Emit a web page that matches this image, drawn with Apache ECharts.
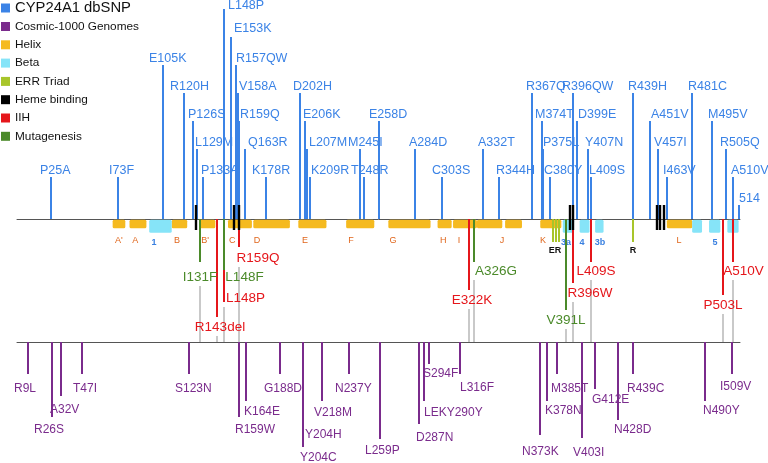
<!DOCTYPE html>
<html><head><meta charset="utf-8">
<script src="https://cdn.jsdelivr.net/npm/echarts@6/dist/echarts.min.js"></script>
<style>html,body{margin:0;padding:0;background:#fff}#c{width:768px;height:463px}</style>
</head><body><div id="c"></div><script>
// ================= DATA =================
// CYP24A1 dbSNP variants (top, stems upward); level = stem height tier
const dbsnpNames = ['P25A','I73F','E105K','R120H','P126S','L129M','P133A','L148P','E153K','R157QW','V158A','R159Q','Q163R','K178R','D202H','E206K','L207M','K209R','M245I','T248R','E258D','A284D','C303S','A332T','R344H','R367Q','M374T','P375L','C380Y','R396QW','D399E','Y407N','L409S','R439H','A451V','V457I','I463V','R481C','M495V','R505Q','A510V','514'];
const dbsnpPos = [25,73,105,120,126,129,133,148,153,157,158,159,163,178,202,206,207,209,245,248,258,284,303,332,344,367,374,375,380,396,399,407,409,439,451,457,463,481,495,505,510,514];
const dbsnpLevel = [2,2,6,5,4,3,2,8,7,6,5,4,3,2,5,4,3,2,3,2,4,3,2,3,2,5,4,3,2,5,4,3,2,5,4,3,2,5,4,3,2,1];

// Cosmic / 1000 Genomes variants (bottom, stems downward); depth in track units
const cosmicNames = ['R9L','R26S','A32V','T47I','S123N','R159W','K164E','G188D','Y204C','Y204H','V218M','N237Y','L259P','D287N','LEKY290Y','S294F','L316F','N373K','K378N','M385T','V403I','G412E','N428D','R439C','N490Y','I509V'];
const cosmicPos = [9,26,32,47,123,159,164,188,204,204,218,237,259,287,290,294,316,373,378,385,403,412,428,439,490,509];
const cosmicDepth = [3.2,7.5,5.4,3.2,3.2,7.5,5.9,3.2,10.5,8.2,5.9,3.2,9.7,8.2,5.9,2.2,3.2,9.3,5.9,3.2,9.6,4.7,7.8,3.2,5.9,3.2];

// Secondary structure: helices
const helixNames = ["A'",'A','B',"B'",'C','D','E','F','G','H','I','J','','K','L'];
const helixStart = [69,81,111,131,151,169,201,235,265,300,311,328,348,373,463];
const helixEnd   = [78,93,122,142,168,195,221,255,295,310,328,346,360,388,481];
const helixLabelPos = [73.5,85,114.7,134.7,154,171.6,205.7,238.5,268.3,304,315.2,345.8,null,375,471.6];
// beta strands
const betaNames = ['1','3a','4','3b','','5',''];
const betaStart = [95,389,401,412,481,493,506];
const betaEnd   = [111,397,408,418,488,501,514];
const betaLabelPos = [98.4,391.3,402.7,415.5,null,497.2,null];

// ERR triad
const errPos = [382,384,386,439];
const errLabelText = ['ER','R'];
const errLabelPos = [383.5,439];

// Heme binding residues
const hemePos = [128,155,159,394,396,456,458,461];

// IIH mutations (red) and mutagenesis (green), hanging below the top line
const iihNames = ['R143del','L148P','R159Q','E322K','R396W','L409S','P503L','A510V'];
const iihPos = [143,148,159,322,396,409,503,510];
const iihDepth = [9.8,8.3,2.8,7.1,6.4,4.3,7.6,4.3];
const mutNames = ['I131F','L148F','A326G','V391L'];
const mutPos = [131,148,326,391];
const mutDepth = [4.3,5.1,4.3,9.1];

// ================= LAYOUT / STYLE =================
const FONT = '"Liberation Sans", Arial, sans-serif';
const C = {blue:'#3b83e6', purple:'#7a2b8c', helix:'#f5ba1f', beta:'#86e4f8', err:'#a8c52a', heme:'#000000', iih:'#e5161b', mut:'#4b8a2a', grey:'#c9c9c9', axis:'#555555', orange:'#e0661c'};
// label left offsets (px) relative to stem, top track
const TOP_DX = {P25A:-11,I73F:-9,E105K:-14,R120H:-14,P126S:-5,L129M:-2,P133A:-2,L148P:4,E153K:3,R157QW:0,V158A:1,R159Q:1,Q163R:3,K178R:-14,D202H:-7,E206K:-2,L207M:2,K209R:1,M245I:-12,T248R:-13,E258D:-10,A284D:-6,C303S:-10,A332T:-5,R344H:-3,R367Q:-6,M374T:-7,P375L:0,C380Y:-6,R396QW:-11,D399E:1,Y407N:-3,L409S:-2,R439H:-5,A451V:1,V457I:-4,I463V:-4,R481C:-4,M495V:-4,R505Q:-6,A510V:-2,'514':0};
// label centre offset (px) above stem top
const TOP_DY = {L148P:-3, E153K:-8};
const BOT_DX = {R9L:-14,R26S:-18,A32V:-11,T47I:-9,S123N:-14,R159W:-4,K164E:-2,G188D:-16,Y204C:-3,Y204H:2,V218M:-8,N237Y:-14,L259P:-15,D287N:-3,LEKY290Y:0,S294F:-6,L316F:0,N373K:-18,K378N:-2,M385T:-6,V403I:-9,G412E:-3,N428D:-4,R439C:-6,N490Y:-2,I509V:-12};
// label centre offset (px) below stem end
const BOT_DY = {R9L:13,R26S:11,A32V:12,T47I:13,S123N:13,R159W:11,K164E:9,G188D:13,Y204C:9,Y204H:9,V218M:10,N237Y:13,L259P:10,D287N:12,LEKY290Y:10,S294F:8,L316F:12,N373K:15,K378N:8,M385T:13,V403I:13,G412E:9,N428D:8,R439C:13,N490Y:8,I509V:11};
// middle labels: [center dx px, center dy px from stem end]
const MID_L = {I131F:[0,15],R143del:[3,10],L148F:[20.5,7],L148P:[21.5,-4],R159Q:[19,11],E322K:[3,10],A326G:[22,9],V391L:[0,10],R396W:[17,10],L409S:[5,9],P503L:[0,10],A510V:[10.5,9]};

const snap = v => Math.round(v);

function stemTop(params, api) {
  const i = params.dataIndex, name = dbsnpNames[i];
  const b = api.coord([api.value(0), 0.5]), t = api.coord([api.value(0), api.value(1)]);
  const x = snap(b[0]);
  return {type:'group', children:[
    {type:'line', shape:{x1:x, y1:b[1], x2:x, y2:t[1]}, style:{stroke:C.blue, lineWidth:2}},
    {type:'text', style:{text:name, x:x + (TOP_DX[name] ?? -5), y:t[1] + (TOP_DY[name] ?? -6.5), fill:C.blue, fontSize:12.5, fontFamily:FONT, align:'left', verticalAlign:'middle'}}
  ]};
}
function stemBottom(params, api) {
  const i = params.dataIndex, name = cosmicNames[i];
  const b = api.coord([api.value(0), 0]), t = api.coord([api.value(0), api.value(1)]);
  const x = snap(b[0]);
  return {type:'group', children:[
    {type:'line', shape:{x1:x, y1:b[1], x2:x, y2:t[1]}, style:{stroke:C.purple, lineWidth:2}},
    {type:'text', style:{text:name, x:x + (BOT_DX[name] ?? -5), y:t[1] + (BOT_DY[name] ?? 11) + 1.5, fill:C.purple, fontSize:12, fontFamily:FONT, align:'left', verticalAlign:'middle'}}
  ]};
}
function midStem(names, color) {
  return function(params, api) {
    const name = names[params.dataIndex];
    const b = api.coord([api.value(0), 0]), t = api.coord([api.value(0), api.value(1)]);
    const x = snap(b[0]); const L = MID_L[name] || [0,10];
    return {type:'group', children:[
      {type:'line', shape:{x1:x, y1:b[1], x2:x, y2:t[1]}, style:{stroke:color, lineWidth:2}},
      {type:'text', style:{text:name, x:x + L[0], y:t[1]+L[1]+0.5, fill:color, fontSize:13.5, fontFamily:FONT, align:'center', verticalAlign:'middle'}}
    ]};
  };
}
// connectors from mid labels to the bottom line
const connMap = {};
function addConn(names, pos, depth) {
  names.forEach((n, i) => {
    const L = MID_L[n] || [0,10];
    const start = depth[i] + (L[1] + 9) / 10;
    if (connMap[pos[i]] === undefined || start > connMap[pos[i]]) connMap[pos[i]] = start;
  });
}
addConn(iihNames, iihPos, iihDepth); addConn(mutNames, mutPos, mutDepth);
const connData = Object.keys(connMap).map(k => [Number(k), connMap[k]]);

function boxes(names, starts, ends, labelPos, color, d1, labelColor, bold) {
  return function(params, api) {
    const i = params.dataIndex;
    const a = api.coord([starts[i], 0.08]), b = api.coord([ends[i], d1]);
    const ch = [{type:'rect', shape:{x:a[0], y:a[1], width:b[0]-a[0], height:b[1]-a[1], r:1.5}, style:{fill:color}}];
    if (names[i] && labelPos[i] != null) {
      const lp = api.coord([labelPos[i], bold ? 2.4 : 2.2]);
      ch.push({type:'text', style:{text:names[i], x:lp[0], y:lp[1], fill:labelColor, fontSize:9, fontWeight: bold ? 'bold' : 'normal', fontFamily:FONT, align:'center', verticalAlign:'middle'}});
    }
    return {type:'group', children:ch};
  };
}

const chart = echarts.init(document.getElementById('c'), null, {renderer:'canvas'});
const axisCommon = {type:'value', min:1, max:515, axisTick:{show:false}, axisLabel:{show:false}, splitLine:{show:false}};
chart.setOption({
  animation:false,
  backgroundColor:'#ffffff',
  legend:[
    {data:['CYP24A1 dbSNP'], orient:'vertical', left:1, top:0, padding:0, icon:'rect', itemWidth:9, itemHeight:9, selectedMode:false, textStyle:{fontSize:14.8, fontFamily:FONT, color:'#111', lineHeight:16}},
    {data:['Cosmic-1000 Genomes','Helix','Beta','ERR Triad','Heme binding','IIH','Mutagenesis'], orient:'vertical', left:1, top:19.5, padding:0, icon:'rect', itemWidth:9, itemHeight:9, itemGap:4.3, selectedMode:false, textStyle:{fontSize:11.8, fontFamily:FONT, color:'#111', lineHeight:14}}
  ],
  grid:[
    {left:17, width:723, top:9, height:210},
    {left:17, width:723, top:219, height:123},
    {left:17, width:723, top:342, height:121}
  ],
  xAxis:[
    Object.assign({gridIndex:0, position:'bottom', axisLine:{show:true, onZero:false, lineStyle:{color:C.axis, width:1}}}, axisCommon),
    Object.assign({gridIndex:1, show:false}, axisCommon),
    Object.assign({gridIndex:2, position:'top', axisLine:{show:true, onZero:false, lineStyle:{color:C.axis, width:1}}}, axisCommon)
  ],
  yAxis:[
    {type:'value', gridIndex:0, min:0.5, max:8, show:false},
    {type:'value', gridIndex:1, min:0, max:12.3, inverse:true, show:false},
    {type:'value', gridIndex:2, min:0, max:12.1, inverse:true, show:false}
  ],
  series:[
    {type:'custom', name:'connectors', xAxisIndex:1, yAxisIndex:1, z:1, silent:true,
     data:connData,
     renderItem:(p, api) => { const a = api.coord([api.value(0), api.value(1)]), b = api.coord([api.value(0), 12.3]); const x = snap(a[0]);
       return {type:'line', shape:{x1:x, y1:a[1], x2:x, y2:b[1]}, style:{stroke:C.grey, lineWidth:2}}; }},
    {type:'custom', name:'CYP24A1 dbSNP', xAxisIndex:0, yAxisIndex:0, z:3, itemStyle:{color:C.blue},
     data:dbsnpPos.map((p, i) => [p, dbsnpLevel[i]]), renderItem:stemTop},
    {type:'custom', name:'Cosmic-1000 Genomes', xAxisIndex:2, yAxisIndex:2, z:3, itemStyle:{color:C.purple},
     data:cosmicPos.map((p, i) => [p, cosmicDepth[i]]), renderItem:stemBottom},
    {type:'custom', name:'Helix', xAxisIndex:1, yAxisIndex:1, z:2, itemStyle:{color:C.helix},
     data:helixStart.map((s, i) => [s, helixEnd[i]]), renderItem:boxes(helixNames, helixStart, helixEnd, helixLabelPos, C.helix, 0.93, C.orange, false)},
    {type:'custom', name:'Beta', xAxisIndex:1, yAxisIndex:1, z:2, itemStyle:{color:C.beta},
     data:betaStart.map((s, i) => [s, betaEnd[i]]), renderItem:boxes(betaNames, betaStart, betaEnd, betaLabelPos, C.beta, 1.37, '#3a80e0', true)},
    {type:'custom', name:'ERR Triad', xAxisIndex:1, yAxisIndex:1, z:4, itemStyle:{color:C.err},
     data:errPos.map(p => [p, 2.3]),
     renderItem:(p, api) => { const a = api.coord([api.value(0), 0]), b = api.coord([api.value(0), api.value(1)]); const x = snap(a[0]);
       const ch = [{type:'line', shape:{x1:x, y1:a[1], x2:x, y2:b[1]}, style:{stroke:C.err, lineWidth:2}}];
       if (p.dataIndex === 0 || p.dataIndex === 3) { const k = p.dataIndex === 0 ? 0 : 1; const lp = api.coord([errLabelPos[k], 3.15]);
         ch.push({type:'text', style:{text:errLabelText[k], x:lp[0], y:lp[1], fill:'#111', fontSize:9, fontWeight:'bold', fontFamily:FONT, align:'center', verticalAlign:'middle'}}); }
       return {type:'group', children:ch}; }},
    {type:'custom', name:'Heme binding', xAxisIndex:1, yAxisIndex:1, z:6, itemStyle:{color:C.heme},
     data:hemePos.map(p => [p, 1.1]),
     renderItem:(p, api) => { const a = api.coord([api.value(0), -1.4]), b = api.coord([api.value(0), api.value(1)]); const x = snap(a[0]);
       return {type:'line', shape:{x1:x, y1:a[1], x2:x, y2:b[1]}, style:{stroke:'#000', lineWidth:2.4}}; }},
    {type:'custom', name:'IIH', xAxisIndex:1, yAxisIndex:1, z:4, itemStyle:{color:C.iih},
     data:iihPos.map((p, i) => [p, iihDepth[i]]), renderItem:midStem(iihNames, C.iih)},
    {type:'custom', name:'Mutagenesis', xAxisIndex:1, yAxisIndex:1, z:5, itemStyle:{color:C.mut},
     data:mutPos.map((p, i) => [p, mutDepth[i]]), renderItem:midStem(mutNames, C.mut)}
  ]
});
</script></body></html>
